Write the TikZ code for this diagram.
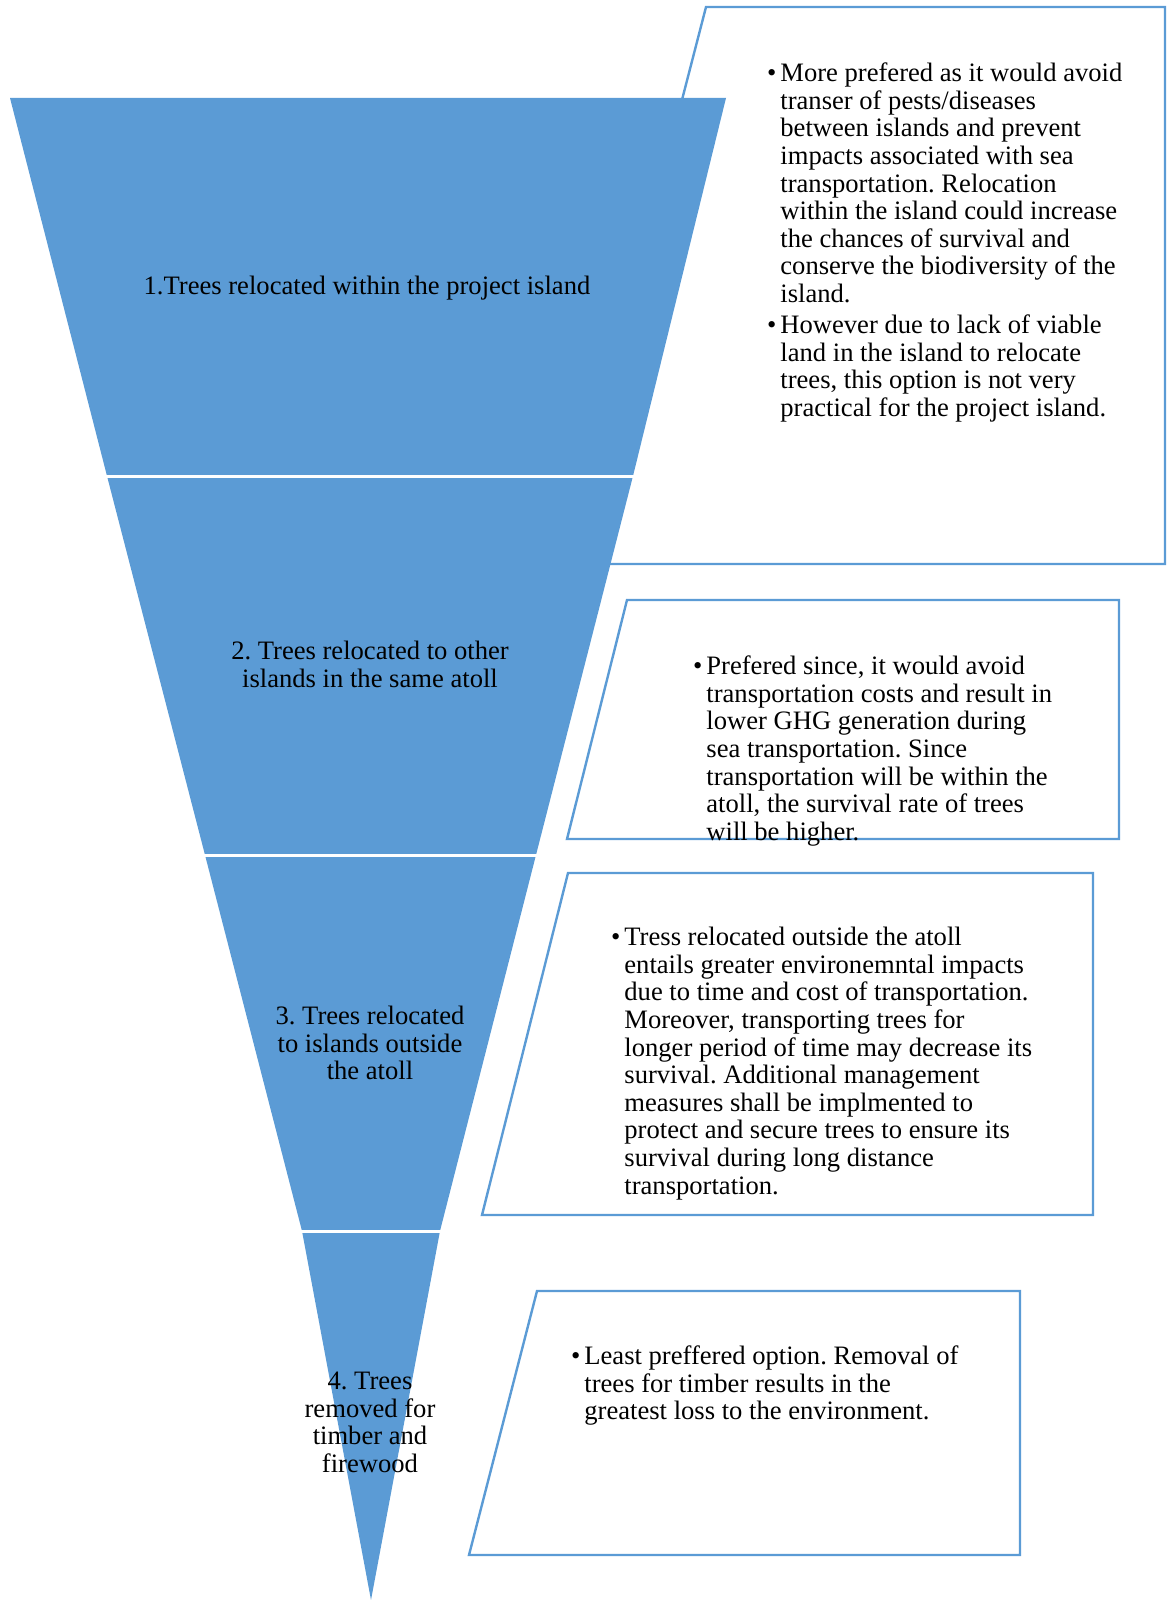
\documentclass[tikz,border=0pt]{standalone}
\usepackage{fontspec}
\setmainfont{Liberation Serif}
\usetikzlibrary{calc,positioning}
\definecolor{bandblue}{HTML}{5B9BD5}
\newcommand{\boxbullet}{\llap{\textbullet\hspace{2pt}}}
\frenchspacing

\begin{document}
\begin{tikzpicture}[x=0.5pt,y=-0.5pt,
    band/.style={fill=bandblue},
    bandgap/.style={draw=white, line width=1.5pt},
    infobox/.style={fill=white, draw=bandblue, line width=1.2pt},
    bandlabel/.style={anchor=north, align=center, inner sep=0pt, font=\fontsize{13.3}{13.8}\selectfont},
    infotext/.style={anchor=north west, align=left, inner sep=0pt, font=\fontsize{13.3}{13.8}\selectfont}]
    \useasboundingbox (0,0) rectangle (1167,1600);

    % text boxes (the first one sits behind the funnel)
    \coordinate (B1) at (706,7);
    \coordinate (B2) at (627,600);
    \coordinate (B3) at (568,873);
    \coordinate (B4) at (537,1291);
    \draw[infobox] (B1) -- (1165,7) -- (1165,564) -- (562,564) -- cycle;
    \draw[infobox] (B2) -- (1119,600) -- (1119,839) -- (567,839) -- cycle;
    \draw[infobox] (B3) -- (1093,873) -- (1093,1215) -- (482,1215) -- cycle;
    \draw[infobox] (B4) -- (1020,1291) -- (1020,1555) -- (469,1555) -- cycle;

    % funnel bands
    \coordinate (apex) at (371,1600);
    \coordinate (L1) at (107,476);
    \coordinate (R1) at (633,476);
    \coordinate (L2) at (205,855);
    \coordinate (R2) at (536,855);
    \coordinate (L3) at (302,1231);
    \coordinate (R3) at (440,1231);
    \fill[band] (10,98) -- (726,98) -- (R1) -- (L1) -- cycle;
    \fill[band] (L1) -- (R1) -- (R2) -- (L2) -- cycle;
    \fill[band] (L2) -- (R2) -- (R3) -- (L3) -- cycle;
    \fill[band] (L3) -- (R3) -- (apex) -- cycle;
    \draw[bandgap] ($(L1)+(-3,0)$) -- ($(R1)+(3,0)$);
    \draw[bandgap] ($(L2)+(-3,0)$) -- ($(R2)+(3,0)$);
    \draw[bandgap] ($(L3)+(-3,0)$) -- ($(R3)+(3,0)$);

    \node[bandlabel] (lab1) at (367,275) {\strut1.Trees relocated within the project island};
    \node[bandlabel] (lab2) at (370,640) {\strut2. Trees relocated to other\\islands in the same atoll};
    \node[bandlabel] (lab3) at (370,1005) {\strut3. Trees relocated\\to islands outside\\the atoll};
    \node[bandlabel] (lab4) at (370,1370) {\strut4. Trees\\removed for\\timber and\\firewood};

    \node[infotext] (txt1) at (780,62) {\strut\boxbullet More prefered as it would avoid\\
        transer of pests/diseases\\
        between islands and prevent\\
        impacts associated with sea\\
        transportation. Relocation\\
        within the island could increase\\
        the chances of survival and\\
        conserve the biodiversity of the\\
        island.\\[1.7pt]
        \boxbullet However due to lack of viable\\
        land in the island to relocate\\
        trees, this option is not very\\
        practical for the project island.};
    \node[infotext] (txt2) at (706,655) {\strut\boxbullet Prefered since, it would avoid\\
        transportation costs and result in\\
        lower GHG generation during\\
        sea transportation. Since\\
        transportation will be within the\\
        atoll, the survival rate of trees\\
        will be higher.};
    \node[infotext] (txt3) at (624,926) {\strut\boxbullet Tress relocated outside the atoll\\
        entails greater environemntal impacts\\
        due to time and cost of transportation.\\
        Moreover, transporting trees for\\
        longer period of time may decrease its\\
        survival. Additional management\\
        measures shall be implmented to\\
        protect and secure trees to ensure its\\
        survival during long distance\\
        transportation.};
    \node[infotext] (txt4) at (584,1345) {\strut\boxbullet Least preffered option. Removal of\\
        trees for timber results in the\\
        greatest loss to the environment.};
\end{tikzpicture}
\end{document}
